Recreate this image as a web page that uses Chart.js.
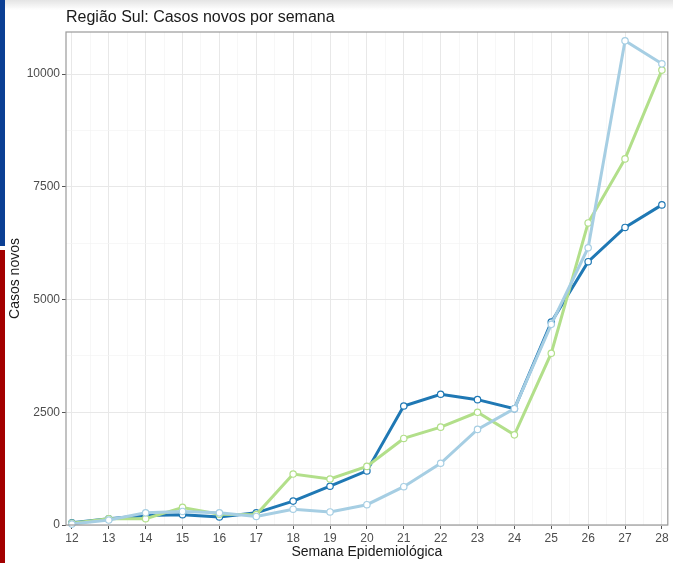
<!DOCTYPE html>
<html>
<head>
<meta charset="utf-8">
<script src="https://cdn.jsdelivr.net/npm/chart.js@4.4.1/dist/chart.umd.min.js"></script>
<style>
  html, body { margin: 0; padding: 0; background: #fff; }
  #wrap { position: relative; width: 673px; height: 563px; overflow: hidden; }
  #shade { position: absolute; left: 0; top: 0; width: 673px; height: 10px;
           background: linear-gradient(#e4e4e4, rgba(255,255,255,0)); }
  #stripeBlue { position: absolute; left: 0; top: 0; width: 5px; height: 246px; background: #0b3f94; }
  #stripeRed { position: absolute; left: 0; top: 250px; width: 5px; height: 313px; background: #a30000; }
  canvas { position: absolute; left: 0; top: 0; }
</style>
</head>
<body>
<div id="wrap">
  <canvas id="chart" width="673" height="563"></canvas>
  <div id="shade"></div>
  <div id="stripeBlue"></div>
  <div id="stripeRed"></div>
</div>
<script>
// semanas epidemiológicas
const weeks = [12, 13, 14, 15, 16, 17, 18, 19, 20, 21, 22, 23, 24, 25, 26, 27, 28];

// três séries
const seriesDark  = [50, 140, 210, 230, 180, 270, 530, 860, 1200, 2640, 2900, 2780, 2580, 4500, 5840, 6600, 7100];
const seriesLight = [20, 110, 270, 300, 270, 190, 350, 290, 450, 850, 1370, 2120, 2580, 4450, 6150, 10740, 10230];
const seriesGreen = [40, 140, 140, 390, 240, 230, 1130, 1020, 1300, 1920, 2170, 2500, 2000, 3810, 6700, 8120, 10090];

const yTicks = [0, 2500, 5000, 7500, 10000];

const colors = { dark: '#1f78b4', light: '#a6cee3', green: '#b2df8a' };

function mkSet(label, data, color) {
  return {
    label: label,
    data: data.map((v, i) => ({ x: weeks[i], y: v })),
    borderColor: color,
    backgroundColor: '#ffffff',
    borderWidth: 3,
    pointRadius: 3.2,
    pointBorderWidth: 1.2,
    pointBorderColor: color,
    pointBackgroundColor: '#ffffff',
    tension: 0,
    clip: false
  };
}

// major + minor ticks (minor = midpoints)
function withMinor(vals) {
  const out = [];
  vals.forEach((v, i) => {
    out.push({ value: v, major: true });
    if (i < vals.length - 1) out.push({ value: (v + vals[i + 1]) / 2, major: false });
  });
  return out;
}

const gridColor = ctx => (ctx.tick && ctx.tick.major) ? '#e8e8e8' : '#f3f3f3';
const tickColor = ctx => (ctx.tick && ctx.tick.major) ? '#555555' : 'rgba(0,0,0,0)';
const FONT = '"Liberation Sans", Arial, sans-serif';

const panelBorder = {
  id: 'panelBorder',
  afterDatasetsDraw(chart) {
    const a = chart.chartArea, c = chart.ctx;
    c.save();
    c.strokeStyle = '#9a9a9a';
    c.lineWidth = 1.2;
    c.strokeRect(a.left, a.top, a.right - a.left, a.bottom - a.top);
    c.restore();
  },
  afterDraw(chart) {
    const a = chart.chartArea, c = chart.ctx;
    c.save();
    c.fillStyle = '#1a1a1a';
    c.font = '16px ' + FONT;
    c.textBaseline = 'alphabetic';
    c.fillText('Região Sul: Casos novos por semana', a.left, a.top - 10);
    c.restore();
  }
};

new Chart(document.getElementById('chart'), {
  type: 'line',
  data: {
    datasets: [
      mkSet('A', seriesLight, colors.light),
      mkSet('B', seriesGreen, colors.green),
      mkSet('C', seriesDark, colors.dark)
    ]
  },
  options: {
    responsive: false,
    animation: false,
    layout: { padding: { left: 7, right: 3, top: 32, bottom: 0 } },
    plugins: { legend: { display: false }, tooltip: { enabled: false } },
    scales: {
      x: {
        type: 'linear',
        min: 11.84,
        max: 28.16,
        afterBuildTicks: s => { s.ticks = withMinor(weeks); },
        afterFit: s => { s.height = 38; s.paddingLeft = 0; s.paddingRight = 0; },
        grid: { color: gridColor, lineWidth: ctx => (ctx.tick && ctx.tick.major) ? 1 : 0.7,
                tickColor: tickColor, tickLength: 4, drawTicks: true },
        border: { display: false },
        ticks: {
          color: '#4d4d4d', padding: 2, maxRotation: 0, autoSkip: false,
          font: { family: FONT, size: 12 },
          callback: (v) => Number.isInteger(v) ? String(v) : ''
        },
        title: {
          display: true, text: 'Semana Epidemiológica', color: '#1a1a1a',
          padding: { top: 0, bottom: 2 },
          font: { family: FONT, size: 14 }
        }
      },
      y: {
        min: 0,
        max: 10935,
        afterBuildTicks: s => { s.ticks = withMinor(yTicks); },
        afterFit: s => { s.width = 59; s.paddingTop = 0; s.paddingBottom = 0; },
        grid: { color: gridColor, lineWidth: ctx => (ctx.tick && ctx.tick.major) ? 1 : 0.7,
                tickColor: tickColor, tickLength: 4, drawTicks: true },
        border: { display: false },
        ticks: {
          color: '#4d4d4d', padding: 2, autoSkip: false,
          font: { family: FONT, size: 12 },
          callback: (v) => yTicks.includes(v) ? String(v) : ''
        },
        title: {
          display: true, text: 'Casos novos', color: '#1a1a1a',
          padding: { top: 0, bottom: 0 },
          font: { family: FONT, size: 14 }
        }
      }
    }
  },
  plugins: [panelBorder]
});
</script>
</body>
</html>
